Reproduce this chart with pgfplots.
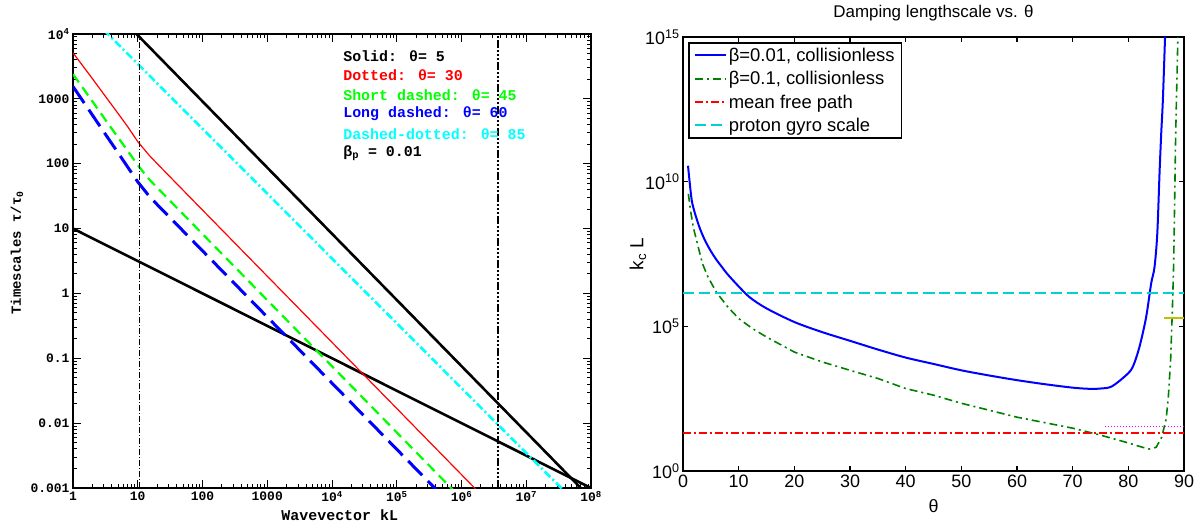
\documentclass[border=0pt]{standalone}
\usepackage{pgfplots}
\pgfplotsset{compat=1.18}
\usepackage{fontspec}
\setmainfont{Liberation Sans}
\newfontfamily\idl{Liberation Mono}
\definecolor{lred}{RGB}{255,0,0}
\definecolor{lgreen}{RGB}{0,255,0}
\definecolor{lblue}{RGB}{0,0,255}
\definecolor{lcyan}{RGB}{0,255,255}
\definecolor{rgreen}{RGB}{0,128,0}
\definecolor{gyrocol}{RGB}{0,210,210}
\definecolor{rmag}{RGB}{255,0,255}
\definecolor{rolive}{RGB}{191,191,0}
\begin{document}
\begin{tikzpicture}
\path[use as bounding box] (0bp,0bp) rectangle (1204bp,524bp);
% ---------------- left panel ----------------
\begin{axis}[
  at={(73bp,36bp)}, anchor=south west, scale only axis,
  width=518bp, height=454bp,
  xmode=log, ymode=log,
  xmin=1, xmax=1e8, ymin=1e-3, ymax=1e4,
  xtick={1,10,100,1000,1e4,1e5,1e6,1e7,1e8},
  xticklabels={1,10,100,1000,10\textsuperscript{4},10\textsuperscript{5},10\textsuperscript{6},10\textsuperscript{7},10\textsuperscript{8}},
  ytick={1e-3,1e-2,1e-1,1,10,100,1000,1e4},
  yticklabels={0.001,0.01,0.1,1,10,100,1000,10\textsuperscript{4}},
  tick align=inside, major tick length=8bp, minor tick length=4bp,
  axis line style={line width=1.6bp},
  every tick/.style={black, line width=1bp},
  ticklabel style={font=\idl\bfseries\fontsize{13}{13}\selectfont},
  xlabel={Wavevector kL},
  ylabel={Timescales τ/τ\textsubscript{0}},
  every axis x label/.style={at={(axis description cs:0.515,-0.06)}, anchor=center, font=\idl\bfseries\fontsize{15}{15}\selectfont},
  every axis y label/.style={at={(axis description cs:-0.108,0.518)}, rotate=90, anchor=center, font=\idl\bfseries\fontsize{14}{14}\selectfont},
]
% black steep (solid)
\addplot[black, line width=2.6bp] coordinates {(5,19400) (1e8,6.9e-4)};
% black shallow
\addplot[black, line width=2.6bp] coordinates {(1,10) (1e8,1e-3)};
% red dotted
\addplot[draw=lred, color=lred, line width=1.2bp] coordinates {
 (1,5130) (2,2040) (3,1175) (5,590) (7,372) (10,219) (15,135) (20,100) (30,66)
 (100,19.3) (1000,1.845) (1e4,0.1762) (1e5,0.01683) (1e6,0.001607) (1e7,1.535e-4)};
% green short dashed
\addplot[draw=lgreen, color=lgreen, line width=2.2bp, dash pattern=on 10bp off 6bp] coordinates {
 (1,2400) (2,912) (3,513) (5,251) (7,158) (10,95) (15,57.5) (20,42.7) (30,28.2)
 (100,8.26) (1000,0.788) (1e4,0.0753) (1e5,0.00719) (1e6,6.87e-4)};
% blue long dashed
\addplot[draw=lblue, color=lblue, line width=3bp, dash pattern=on 20bp off 8bp] coordinates {
 (1,1550) (2,560) (3,308) (5,146) (7,88.7) (10,52.5) (15,31.6) (20,23.4) (30,15.5)
 (100,4.54) (1000,0.4334) (1e4,0.04138) (1e5,0.003953) (1e6,3.775e-4)};
% cyan dash dotted
\addplot[draw=lcyan, color=lcyan, line width=2.6bp, dash pattern=on 8bp off 3bp on 2bp off 3bp] coordinates {(2,17300) (1e8,3.47e-4)};
% vertical lines
\addplot[black, line width=0.8bp, dash pattern=on 6bp off 2bp on 1bp off 2bp] coordinates {(10.5,1e-3) (10.5,1e4)};
\addplot[black, line width=2bp, dash pattern=on 8bp off 2bp on 2bp off 2bp on 2bp off 2bp on 2bp off 2bp] coordinates {(3.7e6,1e-3) (3.7e6,1e4)};
\begin{scope}[font=\idl\bfseries\fontsize{15}{15}\selectfont]
\node[anchor=west, text=black] at (rel axis cs:0.515,0.952) {Solid: θ= 5};
\node[anchor=west, text=lred] at (rel axis cs:0.515,0.910) {Dotted: θ= 30};
\node[anchor=west, text=lgreen] at (rel axis cs:0.515,0.866) {Short dashed: θ= 45};
\node[anchor=west, text=lblue] at (rel axis cs:0.515,0.824) {Long dashed: θ= 60};
\node[anchor=west, text=lcyan] at (rel axis cs:0.515,0.780) {Dashed-dotted: θ= 85};
\node[anchor=west, text=black] at (rel axis cs:0.515,0.738) {β\textsubscript{p} = 0.01};
\end{scope}
\end{axis}
% ---------------- right panel ----------------
\begin{axis}[
  at={(683bp,53bp)}, anchor=south west, scale only axis,
  width=501bp, height=434bp,
  ymode=log,
  xmin=0, xmax=90, ymin=1, ymax=1e15,
  xtick={0,10,20,30,40,50,60,70,80,90},
  xticklabels={0,10,20,30,40,50,60,70,80,90},
  ytick={1,1e5,1e10,1e15},
  yticklabels={10\textsuperscript{0},10\textsuperscript{5},10\textsuperscript{10},10\textsuperscript{15}},
  yminorticks=false,
  tick align=inside, major tick length=5bp,
  axis line style={line width=1.4bp},
  every tick/.style={black, line width=1.4bp},
  ticklabel style={font=\fontsize{18}{18}\selectfont},
  title={Damping lengthscale vs. θ},
  title style={font=\fontsize{17}{17}\selectfont, at={(axis description cs:0.5,1.042)}, anchor=center, yshift=0pt},
  xlabel={θ},
  ylabel={k\textsubscript{c} L},
  every axis x label/.style={at={(axis description cs:0.5,-0.081)}, anchor=center, font=\fontsize{18}{18}\selectfont},
  every axis y label/.style={at={(axis description cs:-0.09,0.5)}, rotate=90, anchor=center, font=\fontsize{19}{19}\selectfont},
  legend style={at={(axis description cs:0.01,0.988)}, anchor=north west,
    font=\fontsize{18.5}{21}\selectfont,
    row sep=4.5bp, inner xsep=5bp, inner ysep=3bp, line width=1.6bp},
  legend cell align=left,
  legend image code/.code={\draw[#1] plot coordinates {(0bp,0bp) (15bp,0bp) (31bp,0bp)};},
]
\addplot[draw=lblue, color=lblue, line width=2bp, smooth] coordinates {
 (0.9,3.55e10) (1.5,2.82e9) (2,1e9) (3,2.51e8) (4,8.91e7) (5,3.98e7) (6,2e7) (7,1.12e7)
 (8,6.31e6) (10,2.4e6) (12,1e6) (15,4.17e5) (20,1.41e5) (25,6.31e4) (30,3.16e4)
 (35,1.58e4) (40,8.32e3) (45,5.01e3) (50,3.02e3) (55,2e3) (60,1.38e3) (65,1e3)
 (70,759) (73,692) (75,708) (77,832) (79.6,2.04e3) (80.8,3.98e3) (82,1.95e4)
 (83.2,2.09e5) (84.1,3.02e6) (84.7,1.1e7) (85.2,1.58e8) (85.6,1.86e10)
 (85.9,4.37e11) (86.2,6.31e12) (86.6,1.05e15)};
\addlegendentry{β=0.01, collisionless}
\addplot[draw=rgreen, color=rgreen, line width=1.6bp, dash pattern=on 8bp off 4bp on 2bp off 4bp] coordinates {
 (0.96,3.8e9) (1.4,8.91e8) (1.85,2.63e8) (2.75,5.37e7) (3.5,1.45e7) (4.5,5.01e6)
 (6,1.51e6) (8,4.79e5) (10,1.86e5) (12.5,8.32e4) (15,4.27e4) (20,1.29e4) (25,5.89e3)
 (30,3.02e3) (35,1.58e3) (40,708) (45,417) (50,219) (55,126) (60,72.4) (65,46.8)
 (70,30.2) (75,17.4) (80,9.33) (82,7.08) (83.7,5.75) (85,6.61) (86,14.8) (86.8,63.1)
 (87.2,398) (87.6,7.08e3) (87.9,3.16e5) (88.15,1.58e7) (88.5,3.98e11) (88.9,1e15)};
\addlegendentry{β=0.1, collisionless}
\addplot[draw=lred, color=lred, line width=1.5bp, dash pattern=on 8bp off 3bp on 2bp off 3bp] coordinates {(0,20.4) (45,20.4) (90,20.4)};
\addlegendentry{mean free path}
\addplot[draw=gyrocol, color=gyrocol, line width=2bp, dash pattern=on 11bp off 5bp] coordinates {(0,1.38e6) (45,1.38e6) (90,1.38e6)};
\addlegendentry{proton gyro scale}
\addplot[draw=rmag, color=rmag, line width=1.2bp, dash pattern=on 1.5bp off 1.5bp, forget plot] coordinates {(75.8,35.5) (90,35.5)};
\addplot[draw=rolive, color=rolive, line width=2.5bp, forget plot] coordinates {(86.4,1.94e5) (90,1.94e5)};
\end{axis}
\end{tikzpicture}
\end{document}
